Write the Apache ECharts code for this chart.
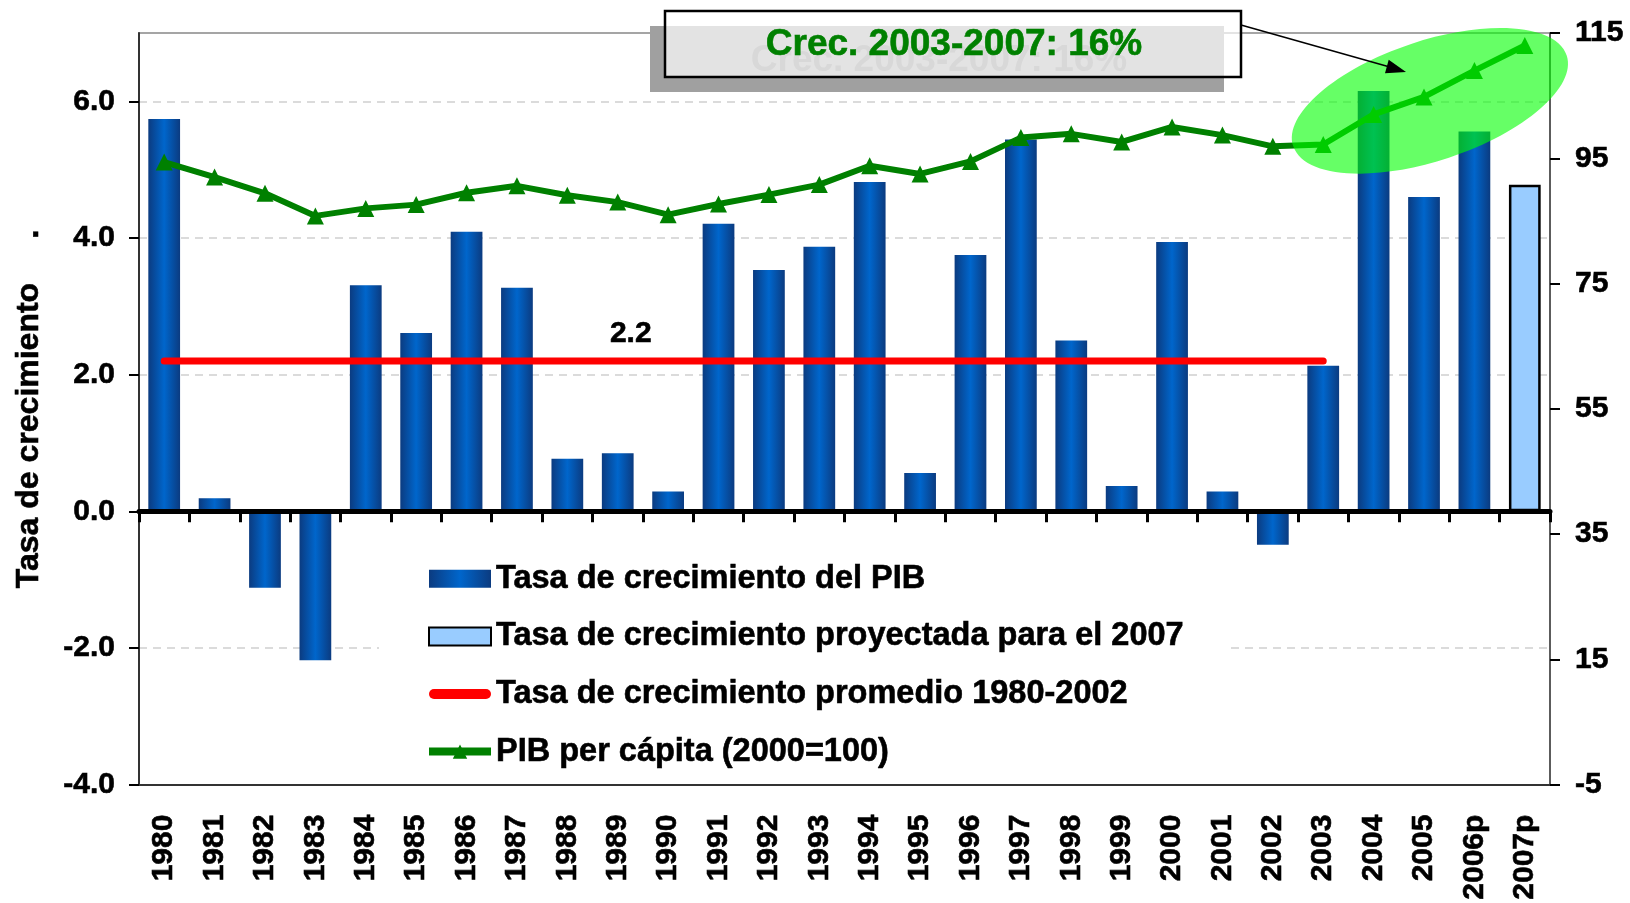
<!DOCTYPE html>
<html>
<head>
<meta charset="utf-8">
<title>Tasa de crecimiento del PIB</title>
<script src="https://cdn.jsdelivr.net/npm/echarts@6.0.0/dist/echarts.min.js"></script>
<style>
  html, body { margin: 0; padding: 0; background: #fff; }
  #chart { width: 1630px; height: 903px; }
</style>
</head>
<body>
<div id="chart"></div>
<script>
// Values
const years = ['1980', '1981', '1982', '1983', '1984', '1985', '1986', '1987', '1988', '1989',
  '1990', '1991', '1992', '1993', '1994', '1995', '1996', '1997', '1998', '1999',
  '2000', '2001', '2002', '2003', '2004', '2005', '2006p', '2007p']
const crecimientoPIB = [5.74, 0.19, -1.12, -2.18, 3.31, 2.61, 4.09, 3.27, 0.77, 0.85,
  0.29, 4.21, 3.53, 3.87, 4.82, 0.56, 3.75, 5.44, 2.50, 0.37,
  3.94, 0.29, -0.49, 2.13, 6.15, 4.60, 5.56, null]
const crecimientoProyectado = [null, null, null, null, null, null, null, null, null, null,
  null, null, null, null, null, null, null, null, null, null,
  null, null, null, null, null, null, null, 4.78]
const pibPerCapita = [94.4, 92.0, 89.4, 85.8, 87.0, 87.6, 89.5, 90.6, 89.1, 88.0,
  86.0, 87.7, 89.2, 90.8, 93.8, 92.5, 94.5, 98.3, 98.9, 97.6,
  100.0, 98.7, 96.9, 97.2, 102.0, 104.8, 109.0, 113.0]
const promedio = 2.2
const promedioHasta = '2003'
const promedioLabelAt = '1989'
const rightTicks = [-5, 15, 35, 55, 75, 95, 115]

const seriesNames = [
  'Tasa de crecimiento del PIB',
  'Tasa de crecimiento proyectada para el 2007',
  'Tasa de crecimiento promedio 1980-2002',
  'PIB per cápita (2000=100)'
]

const FONT = '"Liberation Sans", Arial, sans-serif'
// the source text is heavier than plain bold, so give it a thin outline
const boldText = (size) => ({
  fontFamily: FONT, fontWeight: 'bold', fontSize: size, color: '#000',
  textBorderColor: '#000', textBorderWidth: 0.6
})

// average line runs from 1980 up to 2003, with its value written once
const lastAvg = years.indexOf(promedioHasta)
const promedioData = years.map((y, i) => {
  if (i > lastAvg) return null
  if (y === promedioLabelAt) {
    return {
      value: promedio,
      symbol: 'circle',
      symbolSize: 1,
      label: {
        show: true, position: 'top', distance: 12, offset: [13, 0],
        formatter: (p) => p.value.toFixed(1), ...boldText(30)
      }
    }
  }
  return promedio
})

const barBlue = new echarts.graphic.LinearGradient(0, 0, 1, 0, [
  { offset: 0, color: '#0b3b80' },
  { offset: 0.5, color: '#0066cc' },
  { offset: 1, color: '#0b3b80' }
])

const chart = echarts.init(document.getElementById('chart'))

chart.setOption({
  animation: false,
  backgroundColor: '#fff',
  grid: {
    left: 139, right: 80, top: 33, bottom: 117,
    show: true, borderColor: '#888', borderWidth: 1.5
  },
  legend: {
    orient: 'vertical',
    left: 379,
    top: 552,
    padding: [10, 42, 6, 46],
    backgroundColor: '#fff',
    itemWidth: 62,
    itemHeight: 18,
    itemGap: 24,
    textStyle: { ...boldText(32.5), lineHeight: 30 },
    data: [
      { name: seriesNames[0], icon: 'rect' },
      { name: seriesNames[1], icon: 'rect' },
      {
        name: seriesNames[2],
        icon: 'path://M5,0 L57,0 A5,5 0 0 1 57,10 L5,10 A5,5 0 0 1 5,0 Z',
        itemStyle: { color: '#ff0000' }
      },
      { name: seriesNames[3], lineStyle: { width: 8 } }
    ]
  },
  xAxis: [
    {
      // labels along the bottom of the plot
      type: 'category',
      data: years,
      position: 'bottom',
      axisLine: { onZero: false, lineStyle: { color: '#333', width: 2 } },
      axisTick: { show: false },
      axisLabel: { interval: 0, rotate: 90, margin: 30, ...boldText(30) }
    },
    {
      // thick zero line with ticks between the years
      type: 'category',
      data: years,
      position: 'bottom',
      z: 10,
      axisLine: { onZero: true, onZeroAxisIndex: 0, lineStyle: { color: '#000', width: 5 } },
      axisTick: { show: true, length: 11, lineStyle: { color: '#000', width: 3 } },
      axisLabel: { show: false },
      splitLine: { show: false }
    }
  ],
  yAxis: [
    {
      type: 'value',
      position: 'left',
      min: -4,
      max: 7,
      interval: 2,
      name: 'Tasa de crecimiento     .',
      nameLocation: 'middle',
      nameRotate: 90,
      nameGap: 94,
      nameTextStyle: boldText(32),
      axisLine: { show: true, lineStyle: { color: '#333', width: 2 } },
      axisTick: { show: true, length: 10, lineStyle: { color: '#000', width: 2 } },
      axisLabel: {
        margin: 24, showMaxLabel: false, ...boldText(30),
        formatter: (v) => v.toFixed(1)
      },
      splitLine: {
        show: true, showMinLine: false, showMaxLine: false,
        lineStyle: { color: '#d0d0d0', type: [8, 6], width: 1.5 }
      }
    },
    {
      type: 'value',
      position: 'right',
      min: -5,
      max: 115,
      axisLine: { show: true, lineStyle: { color: '#444', width: 1.5 } },
      axisTick: { show: true, length: 10, customValues: rightTicks, lineStyle: { color: '#000', width: 2 } },
      axisLabel: { margin: 25, customValues: rightTicks, ...boldText(30) },
      splitLine: { show: false }
    }
  ],
  series: [
    {
      name: seriesNames[0],
      type: 'bar',
      stack: 'pib',
      barWidth: '63%',
      data: crecimientoPIB,
      itemStyle: { color: barBlue }
    },
    {
      name: seriesNames[1],
      type: 'bar',
      stack: 'pib',
      barWidth: '63%',
      data: crecimientoProyectado,
      itemStyle: { color: '#99ccff', borderColor: '#000', borderWidth: 2.5 }
    },
    {
      name: seriesNames[2],
      type: 'line',
      data: promedioData,
      symbol: 'none',
      z: 3,
      lineStyle: { color: '#ff0000', width: 7, cap: 'round' },
      itemStyle: { color: '#ff0000' }
    },
    {
      name: seriesNames[3],
      type: 'line',
      yAxisIndex: 1,
      data: pibPerCapita,
      symbol: 'triangle',
      symbolSize: 17,
      z: 4,
      lineStyle: { color: '#008000', width: 6 },
      itemStyle: { color: '#008000' }
    }
  ]
})

// highlight around 2003-2007, centred near the 2005 point
const i05 = years.indexOf('2005')
const c05 = chart.convertToPixel({ xAxisIndex: 0, yAxisIndex: 1 }, [years[i05], pibPerCapita[i05]])

const boxText = 'Crec. 2003-2007: 16%'
chart.setOption({
  graphic: [
    {
      type: 'rect', z: 100,
      shape: { x: 650, y: 26, width: 574, height: 66 },
      style: { fill: '#a0a0a0' }
    },
    {
      type: 'rect', z: 101,
      shape: { x: 665, y: 11, width: 576, height: 66 },
      style: { fill: 'rgba(255,255,255,0.7)', stroke: '#000', lineWidth: 2.5 }
    },
    {
      type: 'text', z: 102, x: 939, y: 61,
      style: {
        text: boxText, fill: '#d8d8d8', font: 'bold 37px ' + FONT,
        textAlign: 'center', textVerticalAlign: 'middle'
      }
    },
    {
      type: 'text', z: 103, x: 954, y: 45,
      style: {
        text: boxText, fill: '#008000', font: 'bold 37px ' + FONT,
        stroke: '#008000', lineWidth: 0.6,
        textAlign: 'center', textVerticalAlign: 'middle'
      }
    },
    {
      type: 'ellipse', z: 110,
      x: c05[0] + 6, y: c05[1] + 4, rotation: 0.32,
      shape: { cx: 0, cy: 0, rx: 144, ry: 60 },
      style: { fill: 'rgba(0,255,0,0.6)' }
    },
    {
      type: 'line', z: 120,
      shape: { x1: 1241, y1: 25, x2: 1388, y2: 66.5 },
      style: { stroke: '#000', lineWidth: 1.5 }
    },
    {
      type: 'polygon', z: 120,
      shape: { points: [[1406, 72], [1385, 73.2], [1388.7, 59.8]] },
      style: { fill: '#000' }
    }
  ]
})

window.addEventListener('resize', () => chart.resize())
</script>
</body>
</html>
